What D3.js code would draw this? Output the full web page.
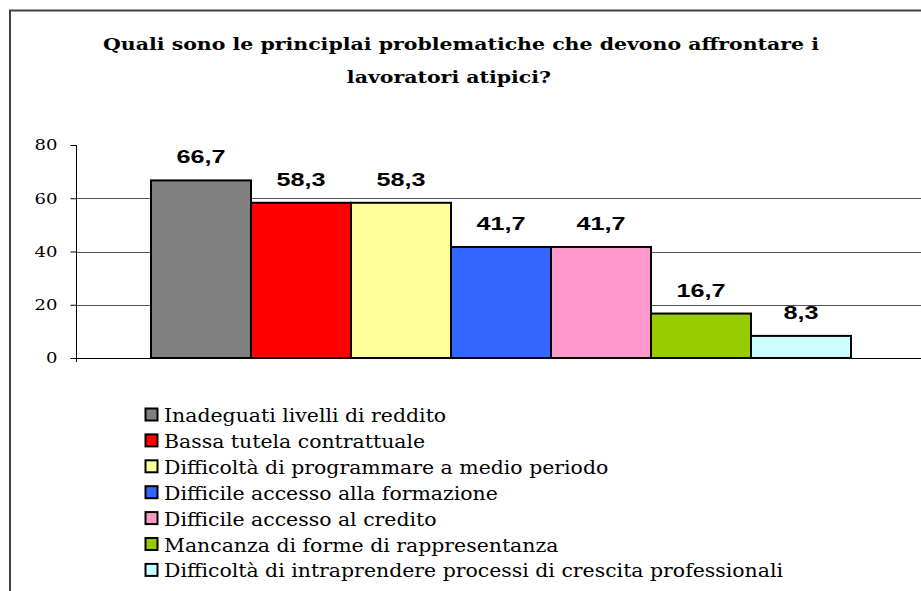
<!DOCTYPE html>
<html>
<head>
<meta charset="utf-8">
<script src="https://cdn.jsdelivr.net/npm/d3@7"></script>
<style>
  body { margin: 0; background: #fff; }
</style>
</head>
<body>
<div id="chart"></div>
<script>
var titleLines = ["Quali sono le principlai problematiche che devono affrontare i", "lavoratori atipici?"];
var categories = [
    "Inadeguati livelli di reddito",
    "Bassa tutela contrattuale",
    "Difficoltà di programmare a medio periodo",
    "Difficile accesso alla formazione",
    "Difficile accesso al credito",
    "Mancanza di forme di rappresentanza",
    "Difficoltà di intraprendere processi di crescita professionali"
];
var values = [66.7, 58.3, 58.3, 41.7, 41.7, 16.7, 8.3];
var colors = ["#808080", "#ff0000", "#ffff99", "#3366ff", "#ff99cc", "#99cc00", "#ccffff"];
var yTicks = [0, 20, 40, 60, 80];

var width = 921, height = 591;
var serif = "'DejaVu Serif', serif";
var sans = "'Liberation Sans', Arial, sans-serif";

// the picture is a bit wider than normal type, so stretch text sideways
function stretch(sel, factor){
    sel.each(function(){
        var w = this.getComputedTextLength();
        d3.select(this)
          .attr("textLength", w * factor)
          .attr("lengthAdjust", "spacingAndGlyphs");
    });
}

var svg = d3.select("#chart").append("svg")
    .attr("width", width)
    .attr("height", height);

// outer frame (only left and top visible)
svg.append("rect")
   .attr("x", 10).attr("y", 10.5)
   .attr("width", width + 20).attr("height", height + 20)
   .attr("fill", "white")
   .attr("stroke", "#404040")
   .attr("stroke-width", 2);

var x = d3.scaleBand()
          .domain(categories)
          .range([151, 851])
          .padding(0);
var y = d3.scaleLinear()
          .domain([0, 80])
          .range([358, 145]);

// gridlines
svg.append("g")
   .selectAll("line")
   .data(yTicks.filter(function(d){ return d > 0 && d < 80; }))
   .enter().append("line")
   .attr("x1", 76).attr("x2", width)
   .attr("y1", function(d){ return Math.round(y(d)) + 0.5; })
   .attr("y2", function(d){ return Math.round(y(d)) + 0.5; })
   .attr("stroke", "#555")
   .attr("stroke-width", 1);

// baseline
svg.append("line")
   .attr("x1", 76).attr("x2", width)
   .attr("y1", Math.round(y(0)) + 0.5).attr("y2", Math.round(y(0)) + 0.5)
   .attr("stroke", "#000");

// y axis
var yAxis = svg.append("g")
   .attr("transform", "translate(76.5,0)")
   .call(d3.axisLeft(y).tickValues(yTicks).tickSize(6).tickSizeOuter(0).tickPadding(13));
yAxis.attr("font-family", null).attr("font-size", null);
yAxis.select(".domain").attr("stroke", "#000").attr("d", "M0," + y(80) + "V" + (y(0) + 4));
yAxis.selectAll(".tick line").attr("stroke", "#000");
yAxis.selectAll("text")
     .style("font-family", serif)
     .style("font-size", "15px")
     .attr("fill", "#000")
     .call(stretch, 1.2);

// bars
svg.append("g")
   .selectAll("rect")
   .data(values)
   .enter().append("rect")
   .attr("x", function(d, i){ return x(categories[i]); })
   .attr("y", function(d){ return y(d); })
   .attr("width", x.bandwidth())
   .attr("height", function(d){ return y(0) - y(d); })
   .attr("fill", function(d, i){ return colors[i]; })
   .attr("stroke", "#000")
   .attr("stroke-width", 2);

// value labels
svg.append("g")
   .selectAll("text")
   .data(values)
   .enter().append("text")
   .attr("x", function(d, i){ return x(categories[i]) + x.bandwidth() / 2; })
   .attr("y", function(d){ return y(d) - 17; })
   .attr("text-anchor", "middle")
   .style("font-family", sans)
   .style("font-weight", "bold")
   .style("font-size", "18px")
   .text(function(d){ return d.toFixed(1).replace(".", ","); })
   .call(stretch, 1.4);

// title
var title = svg.append("g");
title.selectAll("text")
     .data(titleLines)
     .enter().append("text")
     .attr("x", function(d, i){ return i == 0 ? 461 : 449; })
     .attr("y", function(d, i){ return 50 + i * 33; })
     .attr("text-anchor", "middle")
     .style("font-family", serif)
     .style("font-weight", "bold")
     .style("font-size", "16.5px")
     .text(function(d){ return d; });
var tf = 716 / title.select("text").node().getComputedTextLength();
title.selectAll("text").call(stretch, tf);

// legend
var legend = svg.append("g");
var rows = legend.selectAll("g")
     .data(categories)
     .enter().append("g")
     .attr("transform", function(d, i){ return "translate(0," + (415 + i * 25.9) + ")"; });
rows.append("rect")
    .attr("x", 145.5).attr("y", -6.5)
    .attr("width", 12).attr("height", 12)
    .attr("fill", function(d, i){ return colors[i]; })
    .attr("stroke", "#000")
    .attr("stroke-width", 2);
rows.append("text")
    .attr("x", 164)
    .attr("y", 7)
    .style("font-family", serif)
    .style("font-size", "19px")
    .text(function(d){ return d; });
var lf = 619 / rows.select("text").nodes()[6].getComputedTextLength();
rows.selectAll("text").call(stretch, lf);
</script>
</body>
</html>
